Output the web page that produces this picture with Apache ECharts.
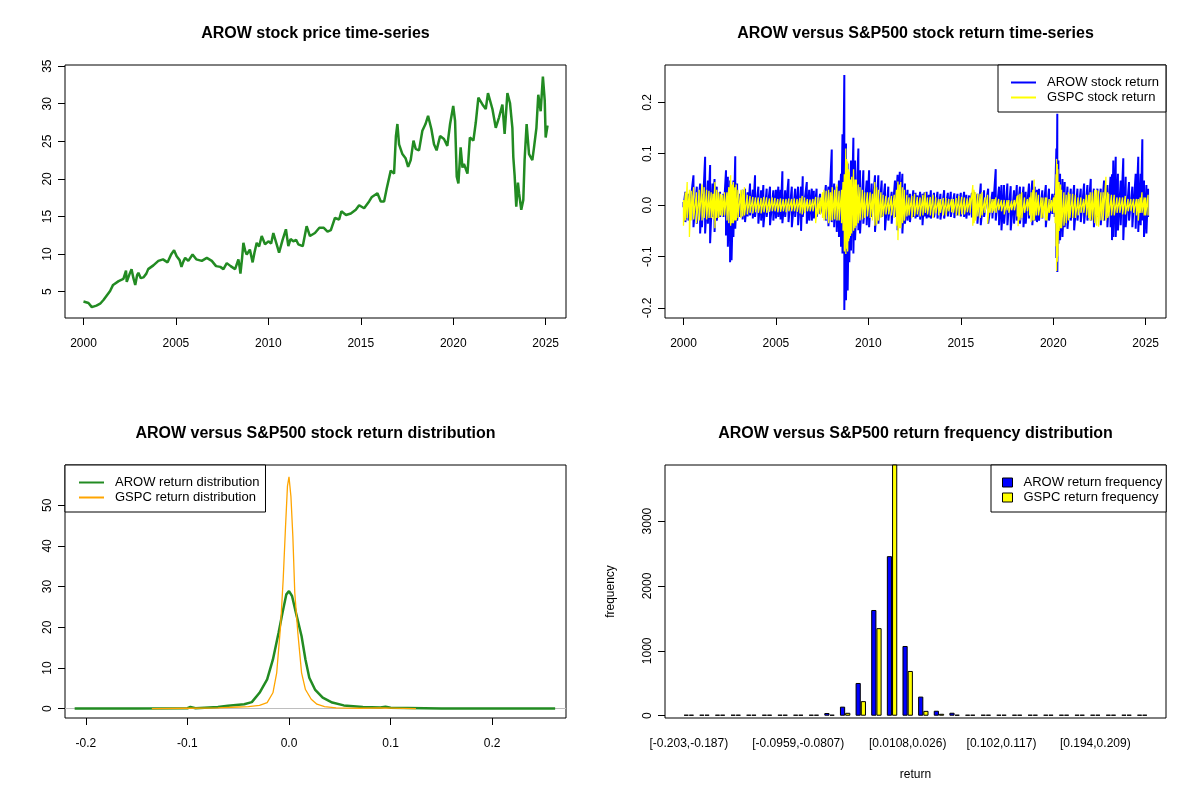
<!DOCTYPE html>
<html lang="en">
<head>
    <meta charset="UTF-8">
    <title>AROW versus S&amp;P500</title>
    <script src="https://cdn.jsdelivr.net/npm/echarts@6/dist/echarts.min.js"></script>
</head>
<body style="margin:0;background:#fff;">
<div id="main" style="width:1200px;height:800px;"></div>

<script type="text/javascript">
    var FONT = 'Liberation Sans, Arial, sans-serif';

    // ---- panel 1: AROW price (decimal year, price) ----
    var priceYear = [
        2000.0, 2000.27, 2000.45, 2000.7, 2000.9, 2001.08, 2001.26, 2001.44, 2001.6, 2001.9,
        2002.16, 2002.3, 2002.34, 2002.5, 2002.6, 2002.7, 2002.8, 2002.9, 2002.97, 2003.1,
        2003.24, 2003.4, 2003.5, 2003.78, 2004.05, 2004.3, 2004.55, 2004.74, 2004.9, 2005.04,
        2005.2, 2005.3, 2005.4, 2005.5, 2005.67, 2005.9, 2006.1, 2006.4, 2006.67, 2006.94,
        2007.17, 2007.4, 2007.57, 2007.75, 2007.96, 2008.2, 2008.38, 2008.45, 2008.49, 2008.58,
        2008.65, 2008.75, 2008.83, 2009.0, 2009.15, 2009.25, 2009.37, 2009.5, 2009.64, 2009.82,
        2010.0, 2010.15, 2010.27, 2010.45, 2010.58, 2010.77, 2010.95, 2011.08, 2011.2, 2011.35,
        2011.5, 2011.62, 2011.86, 2012.07, 2012.25, 2012.52, 2012.76, 2013.0, 2013.2, 2013.38,
        2013.6, 2013.83, 2013.95, 2014.2, 2014.46, 2014.73, 2014.91, 2015.18, 2015.45, 2015.6,
        2015.9, 2016.08, 2016.26, 2016.4, 2016.62, 2016.8, 2016.9, 2016.98, 2017.07, 2017.25,
        2017.43, 2017.56, 2017.7, 2017.85, 2017.97, 2018.15, 2018.33, 2018.5, 2018.64, 2018.82,
        2018.96, 2019.1, 2019.29, 2019.5, 2019.68, 2019.83, 2020.0, 2020.1, 2020.19, 2020.28,
        2020.4, 2020.5, 2020.58, 2020.77, 2020.9, 2021.09, 2021.22, 2021.36, 2021.58, 2021.76,
        2021.88, 2022.12, 2022.3, 2022.48, 2022.66, 2022.78, 2022.93, 2023.07, 2023.2, 2023.25,
        2023.32, 2023.41, 2023.5, 2023.56, 2023.68, 2023.79, 2023.86, 2023.97, 2024.1, 2024.28,
        2024.37, 2024.5, 2024.6, 2024.73, 2024.85, 2024.95, 2025.0, 2025.1
    ];
    var priceValue = [
        3.7, 3.5, 2.95, 3.15, 3.4, 3.9, 4.5, 5.1, 5.9, 6.4,
        6.7, 7.8, 6.3, 7.4, 8.0, 6.8, 5.9, 7.2, 7.5, 6.8,
        6.9, 7.4, 8.0, 8.5, 9.1, 9.3, 8.9, 9.95, 10.5, 9.7,
        9.2, 8.3, 9.0, 9.5, 9.1, 9.95, 9.3, 9.1, 9.5, 9.1,
        8.4, 8.3, 8.0, 8.8, 8.4, 8.0, 9.3, 8.2, 7.4, 9.5,
        11.5, 10.4, 9.95, 10.6, 8.9, 10.2, 11.5, 11.0, 12.4, 11.3,
        11.7, 11.4, 12.8, 11.3, 10.2, 11.9, 13.3, 11.05, 12.0, 11.7,
        11.9, 11.3, 11.05, 13.7, 12.4, 12.8, 13.5, 13.5, 13.0, 13.2,
        14.8, 14.6, 15.7, 15.2, 15.4, 15.9, 16.5, 16.1, 17.0, 17.6,
        18.1, 17.0, 17.0, 18.7, 21.1, 20.7, 25.7, 27.3, 24.6, 23.3,
        22.7, 21.6, 22.5, 25.1, 24.0, 23.8, 26.4, 27.3, 28.4, 26.6,
        24.6, 23.8, 25.7, 25.3, 24.4, 27.3, 29.7, 27.7, 20.3, 19.4,
        24.2, 21.5, 22.0, 20.7, 25.5, 25.1, 27.5, 30.8, 29.9, 29.3,
        31.4, 29.3, 26.8, 28.2, 29.9, 26.0, 31.4, 30.1, 26.8, 22.9,
        20.5, 16.3, 19.5, 18.1, 15.9, 17.2, 22.5, 27.3, 23.3, 22.5,
        24.2, 26.8, 31.2, 29.0, 33.6, 30.4, 25.5, 27.1
    ];

    // ---- panel 2: daily returns, read as upper / lower swings per date ----
    var arowRetYear = [
        2000.0, 2000.1, 2000.27, 2000.54, 2000.72, 2000.9, 2001.0, 2001.17, 2001.32, 2001.44,
        2001.57, 2001.68, 2001.8, 2001.98, 2002.16, 2002.3, 2002.4, 2002.52, 2002.6, 2002.7,
        2002.8, 2002.9, 2003.06, 2003.2, 2003.33, 2003.47, 2003.6, 2003.75, 2003.87, 2004.05,
        2004.2, 2004.32, 2004.5, 2004.68, 2004.86, 2005.0, 2005.13, 2005.25, 2005.35, 2005.5,
        2005.68, 2005.86, 2006.04, 2006.2, 2006.36, 2006.45, 2006.67, 2006.8, 2006.94, 2007.05,
        2007.2, 2007.39, 2007.57, 2007.7, 2007.84, 2008.02, 2008.15, 2008.29, 2008.41, 2008.52,
        2008.6, 2008.7, 2008.79, 2008.88, 2008.97, 2009.06, 2009.19, 2009.28, 2009.46, 2009.55,
        2009.73, 2009.91, 2010.04, 2010.18, 2010.36, 2010.54, 2010.72, 2010.9, 2011.08, 2011.26,
        2011.44, 2011.58, 2011.7, 2011.84, 2011.98, 2012.12, 2012.25, 2012.43, 2012.55, 2012.66,
        2012.8, 2012.93, 2013.04, 2013.15, 2013.27, 2013.38, 2013.55, 2013.74, 2013.9, 2014.1,
        2014.3, 2014.46, 2014.65, 2014.82, 2015.0, 2015.18, 2015.3, 2015.45, 2015.6, 2015.72,
        2015.9, 2016.08, 2016.26, 2016.48, 2016.71, 2016.89, 2017.07, 2017.2, 2017.34, 2017.52,
        2017.7, 2017.88, 2018.03, 2018.2, 2018.39, 2018.51, 2018.69, 2018.87, 2019.0, 2019.12,
        2019.23, 2019.41, 2019.6, 2019.77, 2019.95, 2020.08, 2020.17, 2020.22, 2020.28, 2020.37,
        2020.5, 2020.62, 2020.77, 2020.95, 2021.13, 2021.31, 2021.49, 2021.67, 2021.85, 2022.03,
        2022.2, 2022.39, 2022.57, 2022.75, 2022.93, 2023.1, 2023.18, 2023.25, 2023.38, 2023.5,
        2023.65, 2023.79, 2023.92, 2024.1, 2024.28, 2024.46, 2024.6, 2024.73, 2024.82, 2024.91,
        2025.04, 2025.13
    ];
    var arowRetHi = [
        0.006, 0.026, 0.022, 0.058, 0.036, 0.042, 0.022, 0.094, 0.048, 0.078,
        0.042, 0.051, 0.036, 0.026, 0.022, 0.068, 0.055, 0.048, 0.036, 0.048,
        0.095, 0.042, 0.022, 0.030, 0.032, 0.025, 0.042, 0.030, 0.058, 0.036,
        0.029, 0.039, 0.032, 0.036, 0.029, 0.030, 0.036, 0.030, 0.066, 0.029,
        0.051, 0.036, 0.032, 0.036, 0.036, 0.056, 0.045, 0.030, 0.032, 0.028,
        0.032, 0.022, 0.009, 0.039, 0.036, 0.108, 0.042, 0.036, 0.048, 0.061,
        0.138, 0.253, 0.120, 0.081, 0.055, 0.087, 0.131, 0.087, 0.110, 0.068,
        0.068, 0.048, 0.068, 0.042, 0.058, 0.058, 0.048, 0.042, 0.036, 0.026,
        0.048, 0.059, 0.065, 0.061, 0.042, 0.030, 0.022, 0.029, 0.024, 0.019,
        0.026, 0.022, 0.025, 0.026, 0.020, 0.029, 0.024, 0.026, 0.022, 0.029,
        0.024, 0.026, 0.023, 0.022, 0.024, 0.026, 0.020, 0.019, 0.024, 0.026,
        0.022, 0.042, 0.029, 0.032, 0.026, 0.070, 0.036, 0.039, 0.039, 0.042,
        0.037, 0.029, 0.039, 0.036, 0.036, 0.026, 0.042, 0.048, 0.036, 0.030,
        0.032, 0.029, 0.039, 0.032, 0.022, 0.022, 0.110, 0.178, 0.087, 0.061,
        0.051, 0.045, 0.036, 0.032, 0.039, 0.032, 0.032, 0.042, 0.039, 0.051,
        0.032, 0.032, 0.032, 0.048, 0.039, 0.055, 0.060, 0.087, 0.094, 0.061,
        0.048, 0.091, 0.055, 0.045, 0.036, 0.061, 0.094, 0.061, 0.128, 0.048,
        0.039, 0.032
    ];
    var arowRetLo = [
        -0.004, -0.033, -0.030, -0.043, -0.036, -0.055, -0.043, -0.055, -0.036, -0.074,
        -0.023, -0.052, -0.030, -0.023, -0.023, -0.059, -0.081, -0.111, -0.107, -0.062,
        -0.046, -0.030, -0.023, -0.028, -0.033, -0.022, -0.020, -0.026, -0.023, -0.036,
        -0.030, -0.043, -0.023, -0.039, -0.030, -0.026, -0.023, -0.028, -0.035, -0.023,
        -0.033, -0.043, -0.023, -0.039, -0.050, -0.023, -0.036, -0.030, -0.030, -0.026,
        -0.023, -0.017, -0.010, -0.030, -0.041, -0.033, -0.043, -0.052, -0.062, -0.081,
        -0.094, -0.204, -0.185, -0.166, -0.111, -0.088, -0.094, -0.068, -0.049, -0.055,
        -0.036, -0.039, -0.043, -0.023, -0.052, -0.036, -0.023, -0.049, -0.030, -0.036,
        -0.023, -0.049, -0.023, -0.055, -0.036, -0.030, -0.033, -0.023, -0.026, -0.023,
        -0.028, -0.039, -0.022, -0.026, -0.024, -0.026, -0.024, -0.026, -0.028, -0.026,
        -0.022, -0.023, -0.025, -0.020, -0.022, -0.023, -0.026, -0.020, -0.024, -0.026,
        -0.036, -0.039, -0.023, -0.036, -0.026, -0.030, -0.039, -0.049, -0.036, -0.039,
        -0.049, -0.036, -0.030, -0.036, -0.043, -0.036, -0.026, -0.039, -0.030, -0.033,
        -0.030, -0.026, -0.043, -0.030, -0.017, -0.023, -0.103, -0.130, -0.075, -0.068,
        -0.062, -0.043, -0.046, -0.030, -0.049, -0.030, -0.033, -0.036, -0.030, -0.030,
        -0.043, -0.023, -0.039, -0.030, -0.043, -0.043, -0.068, -0.062, -0.062, -0.049,
        -0.039, -0.068, -0.043, -0.030, -0.043, -0.046, -0.052, -0.039, -0.030, -0.062,
        -0.055, -0.023
    ];

    var gspcRetYear = [
        2000.0, 2000.1, 2000.2, 2000.32, 2000.42, 2000.55, 2000.7, 2000.85, 2001.0, 2001.12,
        2001.25, 2001.38, 2001.5, 2001.6, 2001.7, 2001.8, 2001.9, 2002.0, 2002.1, 2002.22,
        2002.35, 2002.45, 2002.55, 2002.62, 2002.7, 2002.78, 2002.85, 2002.95, 2003.1, 2003.2,
        2003.3, 2003.45, 2003.6, 2003.75, 2003.9, 2004.05, 2004.2, 2004.35, 2004.5, 2004.65,
        2004.8, 2004.95, 2005.1, 2005.25, 2005.4, 2005.55, 2005.7, 2005.85, 2006.0, 2006.15,
        2006.3, 2006.42, 2006.55, 2006.7, 2006.85, 2007.0, 2007.15, 2007.28, 2007.4, 2007.52,
        2007.6, 2007.72, 2007.85, 2007.95, 2008.05, 2008.18, 2008.3, 2008.42, 2008.55, 2008.63,
        2008.7, 2008.78, 2008.83, 2008.88, 2008.93, 2008.97, 2009.03, 2009.1, 2009.2, 2009.28,
        2009.35, 2009.45, 2009.55, 2009.68, 2009.8, 2009.95, 2010.1, 2010.22, 2010.35, 2010.45,
        2010.55, 2010.68, 2010.8, 2010.95, 2011.1, 2011.25, 2011.4, 2011.52, 2011.6, 2011.68,
        2011.75, 2011.85, 2011.95, 2012.08, 2012.2, 2012.35, 2012.5, 2012.65, 2012.8, 2012.95,
        2013.08, 2013.2, 2013.35, 2013.5, 2013.65, 2013.8, 2013.9, 2014.05, 2014.2, 2014.35,
        2014.5, 2014.6, 2014.75, 2014.9, 2015.05, 2015.2, 2015.35, 2015.5, 2015.65, 2015.72,
        2015.8, 2015.92, 2016.05, 2016.15, 2016.3, 2016.45, 2016.58, 2016.7, 2016.8, 2016.9,
        2017.05, 2017.2, 2017.35, 2017.5, 2017.6, 2017.75, 2017.9, 2018.05, 2018.1, 2018.2,
        2018.3, 2018.45, 2018.6, 2018.72, 2018.8, 2018.9, 2018.97, 2019.08, 2019.2, 2019.35,
        2019.45, 2019.58, 2019.65, 2019.78, 2019.9, 2020.02, 2020.1, 2020.15, 2020.18, 2020.22,
        2020.25, 2020.32, 2020.4, 2020.45, 2020.58, 2020.7, 2020.82, 2020.9, 2021.05, 2021.2,
        2021.35, 2021.5, 2021.65, 2021.8, 2021.92, 2022.0, 2022.12, 2022.25, 2022.35, 2022.45,
        2022.58, 2022.7, 2022.85, 2022.95, 2023.0, 2023.15, 2023.3, 2023.45, 2023.6, 2023.75,
        2023.9, 2024.05, 2024.2, 2024.35, 2024.5, 2024.6, 2024.7, 2024.8, 2024.92, 2025.0,
        2025.13
    ];
    var gspcRetHi = [
        0.010, 0.025, 0.045, 0.030, 0.028, 0.035, 0.025, 0.030, 0.040, 0.035,
        0.030, 0.028, 0.025, 0.022, 0.045, 0.030, 0.025, 0.022, 0.020, 0.025,
        0.025, 0.035, 0.058, 0.040, 0.045, 0.035, 0.040, 0.030, 0.030, 0.030,
        0.035, 0.020, 0.018, 0.016, 0.015, 0.015, 0.014, 0.016, 0.015, 0.013,
        0.015, 0.014, 0.012, 0.013, 0.012, 0.012, 0.013, 0.012, 0.013, 0.012,
        0.014, 0.018, 0.015, 0.012, 0.011, 0.012, 0.016, 0.015, 0.015, 0.025,
        0.030, 0.028, 0.030, 0.025, 0.035, 0.030, 0.040, 0.028, 0.030, 0.045,
        0.060, 0.110, 0.090, 0.085, 0.070, 0.065, 0.050, 0.055, 0.070, 0.050,
        0.050, 0.040, 0.035, 0.030, 0.025, 0.025, 0.025, 0.022, 0.045, 0.035,
        0.030, 0.025, 0.020, 0.018, 0.015, 0.018, 0.020, 0.030, 0.046, 0.040,
        0.045, 0.035, 0.030, 0.020, 0.015, 0.018, 0.022, 0.016, 0.015, 0.020,
        0.025, 0.015, 0.016, 0.020, 0.015, 0.012, 0.012, 0.014, 0.014, 0.012,
        0.012, 0.012, 0.014, 0.018, 0.016, 0.015, 0.013, 0.015, 0.039, 0.030,
        0.025, 0.022, 0.022, 0.025, 0.015, 0.020, 0.015, 0.012, 0.012, 0.015,
        0.012, 0.010, 0.010, 0.010, 0.010, 0.009, 0.010, 0.018, 0.020, 0.022,
        0.025, 0.015, 0.012, 0.015, 0.025, 0.030, 0.050, 0.025, 0.020, 0.015,
        0.015, 0.015, 0.015, 0.012, 0.010, 0.015, 0.020, 0.060, 0.090, 0.080,
        0.070, 0.045, 0.040, 0.030, 0.025, 0.020, 0.025, 0.022, 0.022, 0.020,
        0.015, 0.015, 0.012, 0.020, 0.020, 0.025, 0.025, 0.030, 0.030, 0.028,
        0.025, 0.025, 0.055, 0.025, 0.022, 0.020, 0.020, 0.015, 0.015, 0.015,
        0.018, 0.012, 0.012, 0.012, 0.012, 0.012, 0.015, 0.025, 0.015, 0.015,
        0.020
    ];
    var gspcRetLo = [
        -0.040, -0.030, -0.025, -0.062, -0.030, -0.028, -0.035, -0.030, -0.030, -0.025,
        -0.028, -0.025, -0.025, -0.028, -0.045, -0.025, -0.025, -0.020, -0.022, -0.020,
        -0.030, -0.035, -0.040, -0.035, -0.035, -0.030, -0.030, -0.025, -0.025, -0.022,
        -0.020, -0.018, -0.015, -0.016, -0.014, -0.015, -0.016, -0.014, -0.015, -0.013,
        -0.012, -0.012, -0.014, -0.013, -0.012, -0.014, -0.012, -0.012, -0.012, -0.013,
        -0.016, -0.018, -0.015, -0.012, -0.012, -0.012, -0.035, -0.018, -0.018, -0.025,
        -0.030, -0.028, -0.035, -0.030, -0.030, -0.028, -0.030, -0.030, -0.035, -0.050,
        -0.090, -0.095, -0.085, -0.090, -0.070, -0.065, -0.060, -0.055, -0.050, -0.045,
        -0.040, -0.035, -0.030, -0.028, -0.025, -0.022, -0.025, -0.030, -0.040, -0.038,
        -0.030, -0.025, -0.022, -0.018, -0.018, -0.020, -0.025, -0.040, -0.068, -0.045,
        -0.045, -0.035, -0.030, -0.022, -0.020, -0.025, -0.022, -0.018, -0.022, -0.020,
        -0.015, -0.018, -0.020, -0.025, -0.016, -0.020, -0.015, -0.020, -0.020, -0.012,
        -0.014, -0.015, -0.020, -0.020, -0.018, -0.018, -0.014, -0.015, -0.040, -0.035,
        -0.030, -0.022, -0.025, -0.020, -0.015, -0.036, -0.015, -0.015, -0.012, -0.015,
        -0.010, -0.012, -0.018, -0.010, -0.015, -0.010, -0.010, -0.022, -0.041, -0.030,
        -0.025, -0.015, -0.012, -0.020, -0.033, -0.030, -0.030, -0.020, -0.020, -0.025,
        -0.025, -0.030, -0.030, -0.015, -0.012, -0.015, -0.035, -0.080, -0.128, -0.110,
        -0.100, -0.050, -0.045, -0.045, -0.040, -0.035, -0.030, -0.025, -0.025, -0.025,
        -0.020, -0.015, -0.015, -0.020, -0.025, -0.030, -0.030, -0.035, -0.040, -0.042,
        -0.030, -0.030, -0.030, -0.025, -0.022, -0.020, -0.020, -0.015, -0.015, -0.018,
        -0.018, -0.012, -0.012, -0.015, -0.020, -0.030, -0.015, -0.015, -0.020, -0.020,
        -0.020
    ];

    // ---- panel 3: density curves ----
    var arowDensX = [-0.211, -0.15, -0.10, -0.097, -0.092, -0.07, -0.06, -0.0441, -0.0366, -0.029,
        -0.0215, -0.0158, -0.0102, -0.0064, -0.0026, 0, 0.003, 0.0068, 0.0124, 0.0162,
        0.0200, 0.0256, 0.0332, 0.0426, 0.0539, 0.0727, 0.09, 0.095, 0.10, 0.15, 0.262];
    var arowDensY = [0.05, 0.05, 0.1, 0.4, 0.1, 0.4, 0.7, 1.1, 1.6, 3.9,
        7.2, 12.1, 18.7, 23.6, 28.1, 28.9, 27.7, 23.6, 17.8, 12.1,
        7.6, 4.7, 2.7, 1.5, 0.8, 0.4, 0.3, 0.5, 0.2, 0.05, 0.05];
    var gspcDensX = [-0.135, -0.10, -0.07, -0.05, -0.040, -0.029, -0.0215, -0.0158, -0.0121, -0.0083,
        -0.0057, -0.0034, -0.0015, 0, 0.0019, 0.0038, 0.0057, 0.0087, 0.0124, 0.0162,
        0.0219, 0.0275, 0.035, 0.0464, 0.07, 0.09, 0.125];
    var gspcDensY = [0, 0.1, 0.2, 0.4, 0.5, 0.8, 1.5, 3.9, 8.8, 20.3,
        31.8, 44.8, 54.7, 57.0, 52.2, 42.4, 28.5, 18.7, 8.8, 4.7,
        2.3, 1.1, 0.5, 0.2, 0.1, 0.2, 0];

    // ---- panel 4: frequency table ----
    var binLabels = [
        '[-0.203,-0.187)', '[-0.187,-0.172)', '[-0.172,-0.157)', '[-0.157,-0.142)', '[-0.142,-0.126)',
        '[-0.126,-0.111)', '[-0.111,-0.0959)', '[-0.0959,-0.0807)', '[-0.0807,-0.0654)', '[-0.0654,-0.0502)',
        '[-0.0502,-0.0349)', '[-0.0349,-0.0197)', '[-0.0197,-0.00444)', '[-0.00444,0.0108)', '[0.0108,0.026)',
        '[0.026,0.0412)', '[0.0412,0.0565)', '[0.0565,0.0717)', '[0.0717,0.087)', '[0.087,0.102)',
        '[0.102,0.117)', '[0.117,0.133)', '[0.133,0.148)', '[0.148,0.163)', '[0.163,0.178)',
        '[0.178,0.194)', '[0.194,0.209)', '[0.209,0.224)', '[0.224,0.239)', '[0.239,0.255]'
    ];
    var arowFreq = [1, 1, 1, 0, 0, 1, 3, 5, 12, 42, 140, 505, 1630, 2460, 1075,
        295, 77, 46, 15, 12, 8, 3, 2, 1, 0, 0, 0, 0, 0, 1];
    var gspcFreq = [0, 0, 0, 0, 1, 1, 2, 3, 8, 15, 45, 225, 1350, 3950, 690,
        75, 30, 15, 6, 4, 2, 1, 0, 0, 0, 0, 0, 0, 0, 0];
    var shownBins = [0, 7, 14, 20, 26];

    // tick positions
    var yearTicks = [2000, 2005, 2010, 2015, 2020, 2025];
    var priceTicks = [5, 10, 15, 20, 25, 30, 35];
    var retTicks = [-0.2, -0.1, 0, 0.1, 0.2];
    var densXTicks = [-0.2, -0.1, 0, 0.1, 0.2];
    var densYTicks = [0, 10, 20, 30, 40, 50];
    var freqTicks = [0, 1000, 2000, 3000];

    function zip(xs, ys) {
        var out = [];
        for (var i = 0; i < xs.length; i++) {
            out.push([xs[i], ys[i]]);
        }
        return out;
    }

    // up-down swing per date, so the line fills the band like daily data does
    function swing(xs, hi, lo) {
        var out = [];
        for (var i = 0; i < xs.length; i++) {
            out.push([xs[i], hi[i]]);
            out.push([xs[i], lo[i]]);
        }
        return out;
    }

    function plain(v) { return String(v); }
    function oneDec(v) { return v.toFixed(1); }

    function valAxis(grid, min, max, ticks, fmt, vertical) {
        return {
            type: 'value', gridIndex: grid, min: min, max: max,
            axisLine: {show: false, onZero: false},
            splitLine: {show: false},
            axisTick: {show: true, length: 7, customValues: ticks, lineStyle: {color: '#000', width: 1}},
            axisLabel: {
                customValues: ticks, formatter: fmt, color: '#000', fontSize: 12,
                fontFamily: FONT, margin: vertical ? 11 : 20, rotate: vertical ? 90 : 0
            }
        };
    }

    function box(left, top) {
        return {
            left: left, top: top, width: 501, height: 253, show: true,
            borderColor: '#000', borderWidth: 1, backgroundColor: 'transparent',
            outerBoundsMode: 'none', containLabel: false
        };
    }

    function title(text, cx, top) {
        return {
            text: text, left: cx, top: top, textAlign: 'center', padding: 0,
            textStyle: {fontFamily: FONT, fontSize: 16, fontWeight: 'bold', color: '#000'}
        };
    }

    function legend(names, left, top, pad, extra) {
        var l = {
            data: names, left: left, top: top, orient: 'vertical', padding: pad,
            itemGap: 1, itemWidth: 25, itemHeight: 14, selectedMode: false,
            borderColor: '#000', borderWidth: 1, borderRadius: 0, backgroundColor: '#fff',
            itemStyle: {opacity: 0},
            textStyle: {fontFamily: FONT, fontSize: 13, color: '#000', lineHeight: 14, padding: [0, 0, 0, 6]}
        };
        for (var k in extra) l[k] = extra[k];
        return l;
    }

    var myChart = echarts.init(document.getElementById('main'));

    var xHist = {
        type: 'category', gridIndex: 4, data: binLabels,
        axisLine: {show: false, onZero: false},
        axisTick: {show: false},
        splitLine: {show: false},
        axisLabel: {
            interval: function (index) { return shownBins.indexOf(index) >= 0; },
            color: '#000', fontSize: 12, fontFamily: FONT, margin: 20
        },
        name: 'return', nameLocation: 'middle', nameGap: 51,
        nameTextStyle: {color: '#000', fontSize: 12, fontFamily: FONT}
    };
    var yHist = valAxis(4, -35, 3865, freqTicks, plain, true);
    yHist.offset = 16;
    yHist.name = 'frequency';
    yHist.nameLocation = 'middle';
    yHist.nameGap = 48;
    yHist.nameTextStyle = {color: '#000', fontSize: 12, fontFamily: FONT};

    var option = {
        animation: false,
        backgroundColor: '#fff',
        title: [
            title('AROW stock price time-series', 315.5, 26),
            title('AROW versus S&P500 stock return time-series', 915.5, 26),
            title('AROW versus S&P500 stock return distribution', 315.5, 426),
            title('AROW versus S&P500 return frequency distribution', 915.5, 426)
        ],
        legend: [
            legend(['AROW stock return', 'GSPC stock return'], 998, 65, [10.5, 7, 7.5, 12], {}),
            legend(['AROW return distribution', 'GSPC return distribution'], 65, 465, [10.5, 6, 7.5, 13], {}),
            legend(['AROW return frequency', 'GSPC return frequency'], 991, 465, [10.5, 4, 7.5, 11], {
                icon: 'rect', itemWidth: 10, itemHeight: 9,
                itemStyle: {borderColor: '#000', borderWidth: 1}
            })
        ],
        grid: [
            box(65, 65),
            box(665, 65),
            box(65, 465),
            box(665, 465),
            {left: 681, top: 465, width: 469, height: 253, show: false, outerBoundsMode: 'none'}
        ],
        xAxis: [
            valAxis(0, 1999.0, 2026.1, yearTicks, plain, false),
            valAxis(1, 1999.0, 2026.1, yearTicks, plain, false),
            valAxis(2, -0.2205, 0.2727, densXTicks, oneDec, false),
            {type: 'value', gridIndex: 3, show: false},
            xHist
        ],
        yAxis: [
            valAxis(0, 1.5, 35.15, priceTicks, plain, true),
            valAxis(1, -0.2195, 0.2726, retTicks, oneDec, true),
            valAxis(2, -2.3, 59.9, densYTicks, plain, true),
            {type: 'value', gridIndex: 3, show: false},
            yHist
        ],
        series: [
            {
                name: 'AROW price', type: 'line', xAxisIndex: 0, yAxisIndex: 0,
                data: zip(priceYear, priceValue), symbol: 'none',
                lineStyle: {color: '#228B22', width: 2.5}, itemStyle: {color: '#228B22'}
            },
            {
                name: 'AROW stock return', type: 'line', xAxisIndex: 1, yAxisIndex: 1,
                data: swing(arowRetYear, arowRetHi, arowRetLo), symbol: 'none',
                lineStyle: {color: '#0000FF', width: 2}, itemStyle: {color: '#0000FF'}
            },
            {
                name: 'GSPC stock return', type: 'line', xAxisIndex: 1, yAxisIndex: 1,
                data: swing(gspcRetYear, gspcRetHi, gspcRetLo), symbol: 'none',
                lineStyle: {color: '#FFFF00', width: 1.3}, itemStyle: {color: '#FFFF00'}
            },
            {
                name: 'AROW return distribution', type: 'line', xAxisIndex: 2, yAxisIndex: 2,
                data: zip(arowDensX, arowDensY), symbol: 'none',
                lineStyle: {color: '#228B22', width: 2.5}, itemStyle: {color: '#228B22'},
                markLine: {
                    silent: true, symbol: 'none', z: 1, label: {show: false},
                    lineStyle: {color: '#BEBEBE', type: 'solid', width: 1},
                    data: [{yAxis: 0}]
                }
            },
            {
                name: 'GSPC return distribution', type: 'line', xAxisIndex: 2, yAxisIndex: 2,
                data: zip(gspcDensX, gspcDensY), symbol: 'none',
                lineStyle: {color: '#FFA500', width: 1.3}, itemStyle: {color: '#FFA500'}
            },
            {
                name: 'AROW return frequency', type: 'bar', xAxisIndex: 4, yAxisIndex: 4,
                data: arowFreq, barWidth: 5.2, barGap: '0%', barMinHeight: 1,
                itemStyle: {color: '#0000FF', borderColor: '#000', borderWidth: 1}
            },
            {
                name: 'GSPC return frequency', type: 'bar', xAxisIndex: 4, yAxisIndex: 4,
                data: gspcFreq, barWidth: 5.2, barGap: '0%', barMinHeight: 1,
                itemStyle: {color: '#FFFF00', borderColor: '#000', borderWidth: 1}
            }
        ]
    };

    myChart.setOption(option);
</script>
</body>
</html>
